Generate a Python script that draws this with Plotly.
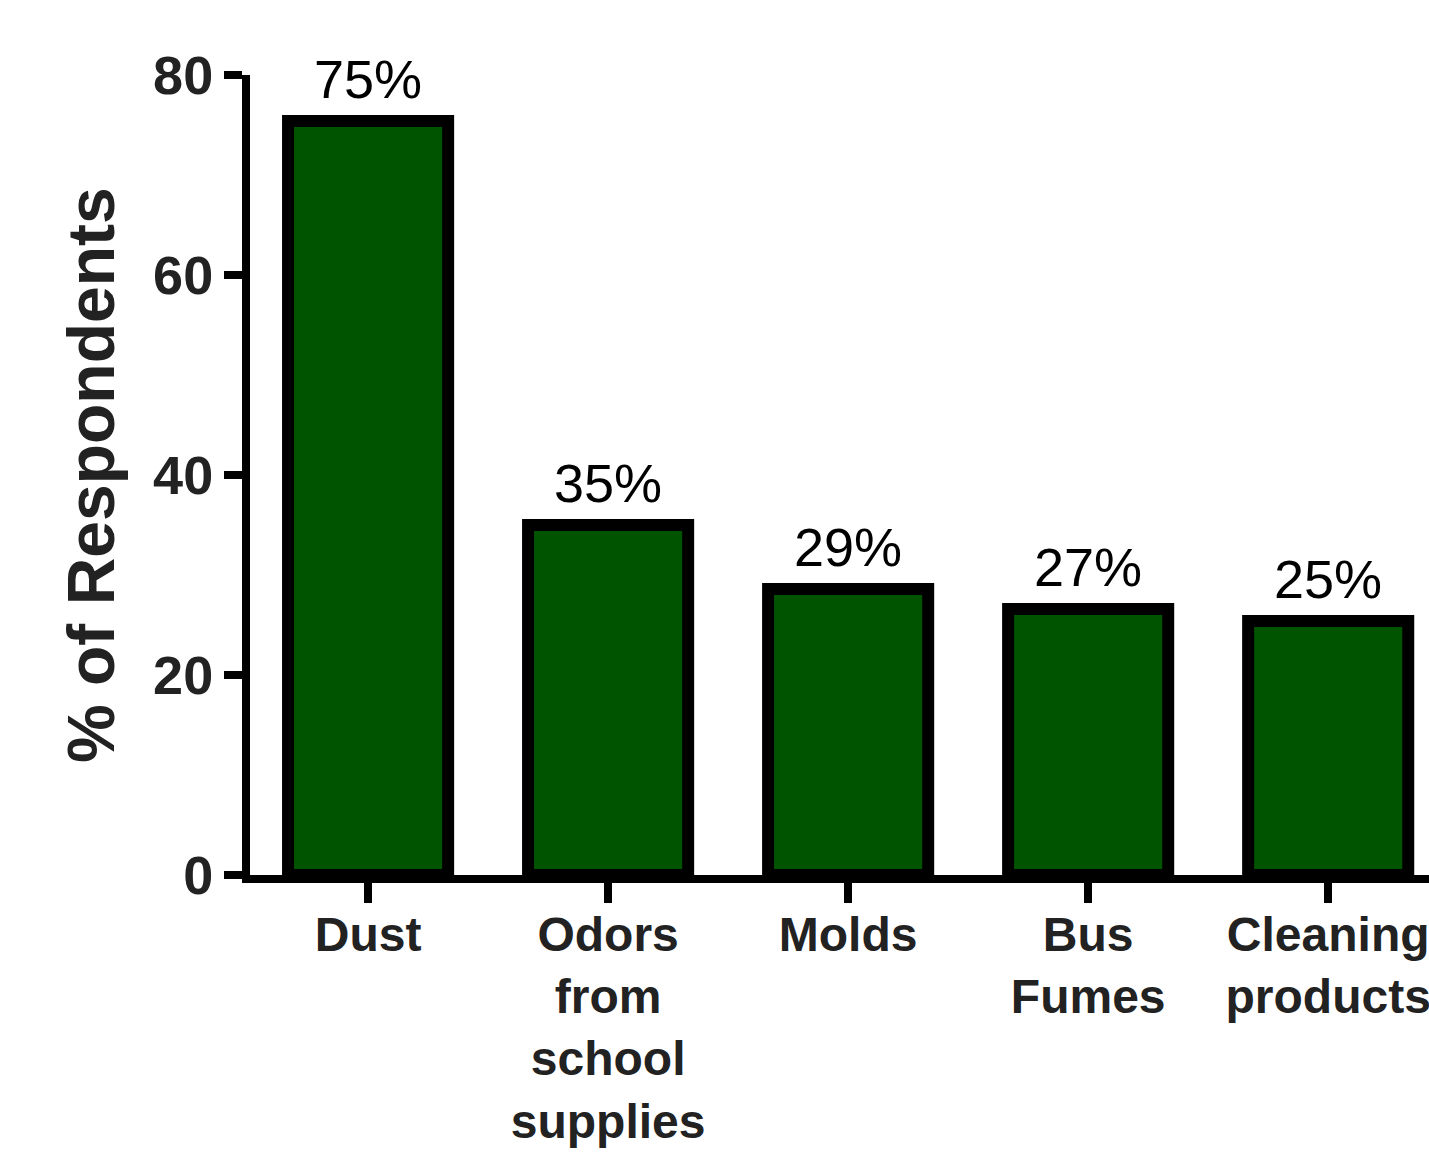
import plotly.graph_objects as go

categories = ["Dust", "Odors<br>from<br>school<br>supplies", "Molds", "Bus<br>Fumes", "Cleaning<br>products"]
values = [75.4, 35.0, 28.6, 26.6, 25.4]
value_labels = ["75%", "35%", "29%", "27%", "25%"]
y_ticks = [0, 20, 40, 60, 80]
y_title = "% of Respondents"

W, H = 1429, 1155
ML, MR, MT, MB = 250, 0, 75, 280

fig = go.Figure()
fig.add_trace(go.Bar(
    x=list(range(len(categories))),
    y=values,
    width=0.667,
    marker=dict(color="#005400", line=dict(color="black", width=12)),
    hoverinfo="skip",
))

for i, (v, lab) in enumerate(zip(values, value_labels)):
    fig.add_annotation(
        x=i, y=v, text=lab, showarrow=False,
        xanchor="center", yanchor="bottom", yshift=10,
        font=dict(family="Liberation Sans, Arial", size=54, color="black"),
    )

plot_w = W - ML - MR
fig.add_annotation(
    xref="paper", yref="paper", x=-(ML - 91) / plot_w, y=0.5,
    text="<b>" + y_title + "</b>", textangle=-90, showarrow=False,
    xanchor="center", yanchor="middle",
    font=dict(family="Liberation Sans, Arial", size=66, color="#222"),
)

fig.update_layout(
    template="none",
    width=W, height=H,
    margin=dict(l=ML, r=MR, t=MT, b=MB, autoexpand=False),
    paper_bgcolor="white", plot_bgcolor="white",
    showlegend=False,
    xaxis=dict(
        range=[-0.492, 4.42],
        tickmode="array",
        tickvals=list(range(len(categories))),
        ticktext=["<b>" + c.replace("<br>", "</b><br><b>") + "</b>" for c in categories],
        ticks="outside", ticklen=20, tickwidth=8, tickcolor="black",
        ticklabeloverflow="allow", ticklabelstandoff=-10,
        showline=True, linecolor="black", linewidth=8,
        showgrid=False, zeroline=False, automargin=False,
        tickfont=dict(family="Liberation Sans, Arial", size=48, color="#222"),
    ),
    yaxis=dict(
        range=[0, 80],
        tickmode="array", tickvals=y_ticks,
        ticktext=["<b>%d</b>" % t for t in y_ticks],
        ticks="outside", ticklen=18, tickwidth=8, tickcolor="black",
        showline=True, linecolor="black", linewidth=8,
        showgrid=False, zeroline=False, automargin=False,
        tickfont=dict(family="Liberation Sans, Arial", size=54, color="#222"),
    ),
)

fig.write_html(
    "out.html",
    config={"displayModeBar": False},
    post_script="document.body.style.margin='0';document.body.style.overflow='hidden';",
)
